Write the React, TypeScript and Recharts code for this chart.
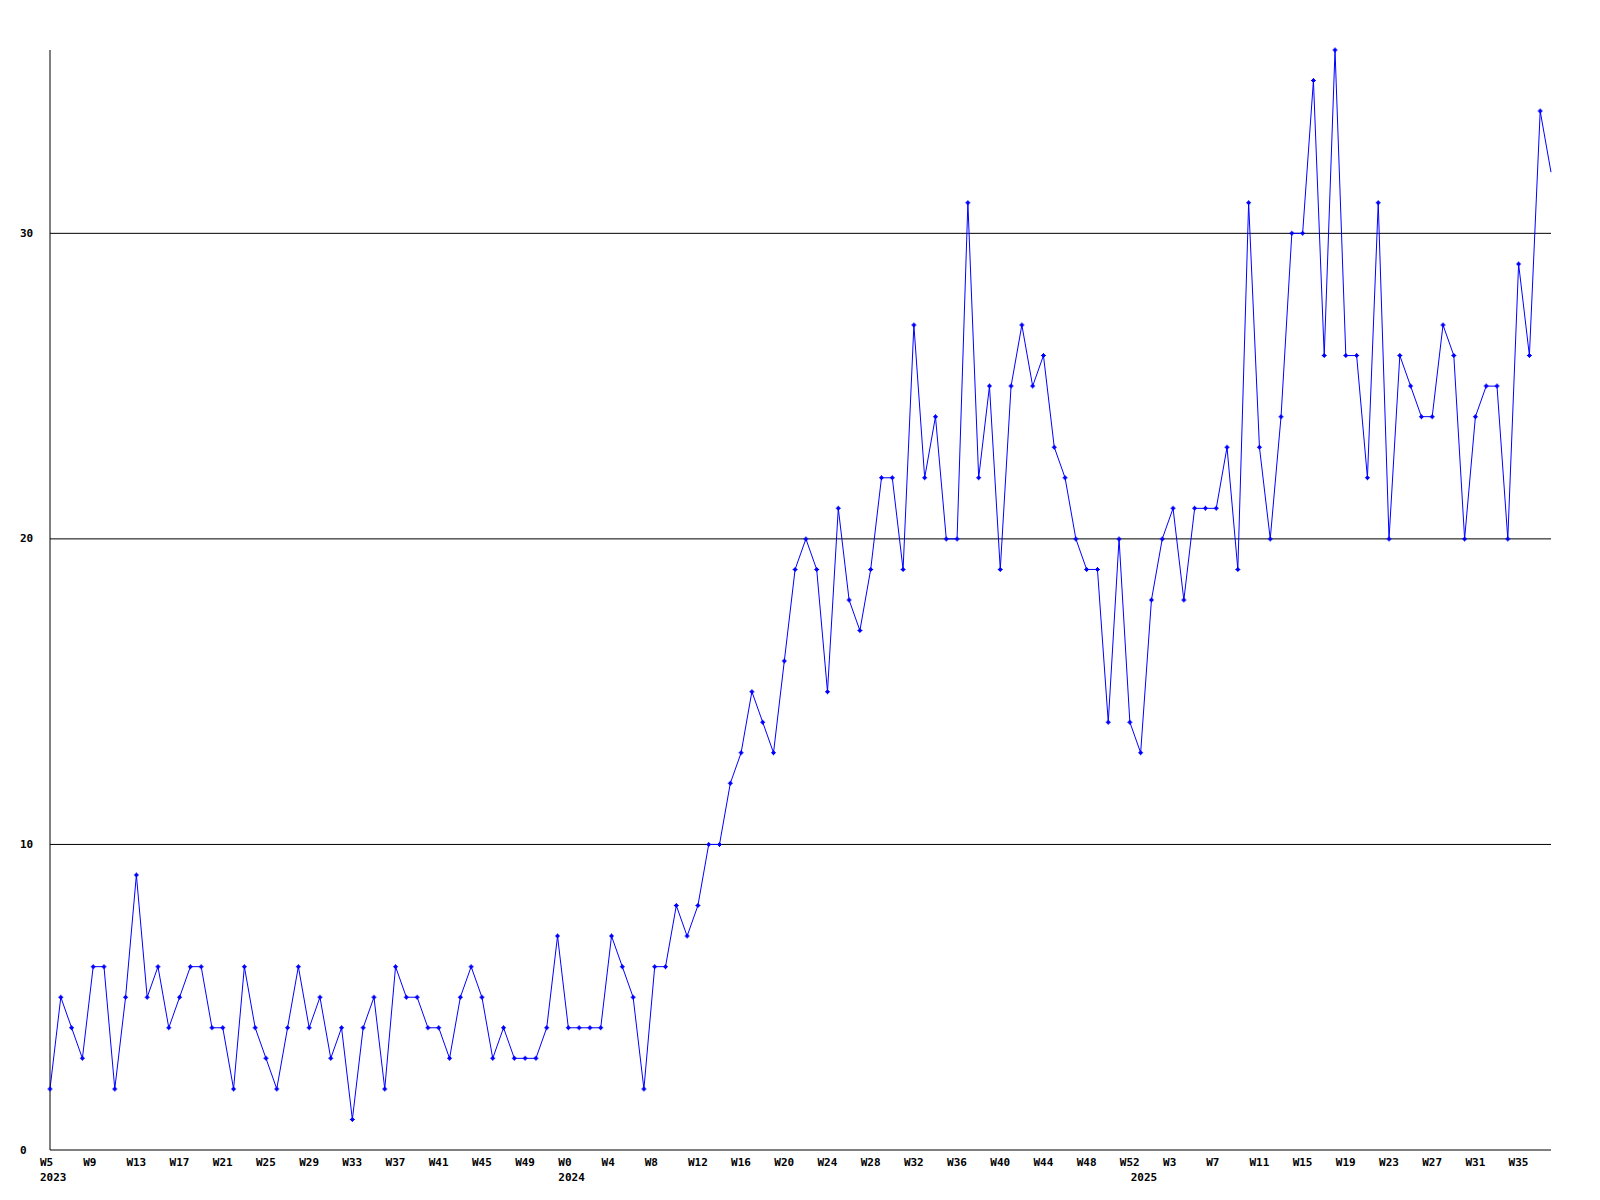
import React from 'react';
import { LineChart, Line, XAxis, YAxis, CartesianGrid } from 'recharts';

// weekly counts, W5 2023 .. W37 2025 (one value per week)
const counts2023 = [
  2, 5, 4, 3, 6, 6, 2, 5, 9, 5, 6, 4, 5, 6, 6, 4, 4, 2, 6, 4, 3, 2, 4, 6,
  4, 5, 3, 4, 1, 4, 5, 2, 6, 5, 5, 4, 4, 3, 5, 6, 5, 3, 4, 3, 3, 3, 4, 7,
];
const counts2024 = [
  4, 4, 4, 4, 7, 6, 5, 2, 6, 6, 8, 7, 8, 10, 10, 12, 13, 15, 14, 13, 16, 19,
  20, 19, 15, 21, 18, 17, 19, 22, 22, 19, 27, 22, 24, 20, 20, 31, 22, 25, 19,
  25, 27, 25, 26, 23, 22, 20, 19, 19, 14, 20, 14,
];
const counts2025 = [
  13, 18, 20, 21, 18, 21, 21, 21, 23, 19, 31, 23, 20, 24, 30, 30, 35, 26, 36,
  26, 26, 22, 31, 20, 26, 25, 24, 24, 27, 26, 20, 24, 25, 25, 20, 29, 26, 34, 32,
];

// labelled week ticks, one every 4 weeks starting at the first point
const weekTicks = [
  'W5', 'W9', 'W13', 'W17', 'W21', 'W25', 'W29', 'W33', 'W37', 'W41', 'W45', 'W49',
  'W0', 'W4', 'W8', 'W12', 'W16', 'W20', 'W24', 'W28', 'W32', 'W36', 'W40', 'W44', 'W48', 'W52',
  'W3', 'W7', 'W11', 'W15', 'W19', 'W23', 'W27', 'W31', 'W35',
];
const years = ['2023', '2024', '2025'];
const yTicks = [0, 10, 20, 30];
const gridValues = [10, 20, 30];

const allCounts = [...counts2023, ...counts2024, ...counts2025];
const data = allCounts.map((count, idx) => ({ idx, count }));
const lastIdx = allCounts.length - 1;
const yearStart = [0, counts2023.length, counts2023.length + counts2024.length];

const tickIdx = Array.from(new Set([...weekTicks.map((_, i) => i * 4), ...yearStart])).sort((a, b) => a - b);

const FONT = '"DejaVu Sans Mono", "Liberation Mono", monospace';

const WeekTick = ({ x, y, payload }: any) => {
  const i = payload.value;
  const week = i % 4 === 0 ? weekTicks[i / 4] : null;
  const yi = yearStart.indexOf(i);
  return (
    <g>
      {week && (
        <text x={x - 10} y={y + 12} textAnchor="start" dominantBaseline="central"
          fontFamily={FONT} fontWeight="bold" fontSize={11} fill="#000">{week}</text>
      )}
      {yi >= 0 && (
        <text x={x - 10} y={y + 27} textAnchor="start" dominantBaseline="central"
          fontFamily={FONT} fontWeight="bold" fontSize={11} fill="#000">{years[yi]}</text>
      )}
    </g>
  );
};

const ValueTick = ({ y, payload }: any) => (
  <text x={20} y={y} textAnchor="start" dominantBaseline="central"
    fontFamily={FONT} fontWeight="bold" fontSize={11} fill="#000">{payload.value}</text>
);

const PlusDot = ({ cx, cy, index }: any) => {
  if (index === lastIdx || cx == null) return <g key={`d${index}`} />;
  const d = `M${cx - 2.5} ${cy - 0.5}h5v1h-5z M${cx - 0.5} ${cy - 2.5}h1v5h-1z M${cx - 1.5} ${cy - 1.5}h3v3h-3z`;
  return <path key={`d${index}`} d={d} fill="#0000ff" />;
};

export default function App() {
  return (
    <div style={{ position: 'absolute', left: 0, top: 0, width: 1600, height: 1200, background: '#fff' }}>
      <LineChart width={1600} height={1200} data={data}
        margin={{ top: 50, right: 49, bottom: 0, left: 0 }}>
        <CartesianGrid vertical={false} horizontalValues={gridValues} stroke="#000" strokeWidth={1} />
        <XAxis dataKey="idx" type="number" domain={[0, lastIdx]} ticks={tickIdx} interval={0}
          height={50} tickLine={false} tickSize={0} tickMargin={0}
          axisLine={{ stroke: '#000', strokeWidth: 1 }} tick={<WeekTick />} />
        <YAxis type="number" domain={[0, 36]} ticks={yTicks} interval={0} width={50}
          tickLine={false} axisLine={{ stroke: '#000', strokeWidth: 1 }} tick={<ValueTick />} />
        <Line type="linear" dataKey="count" stroke="#0000ff" strokeWidth={1}
          dot={<PlusDot />} activeDot={false} isAnimationActive={false} />
      </LineChart>
    </div>
  );
}
